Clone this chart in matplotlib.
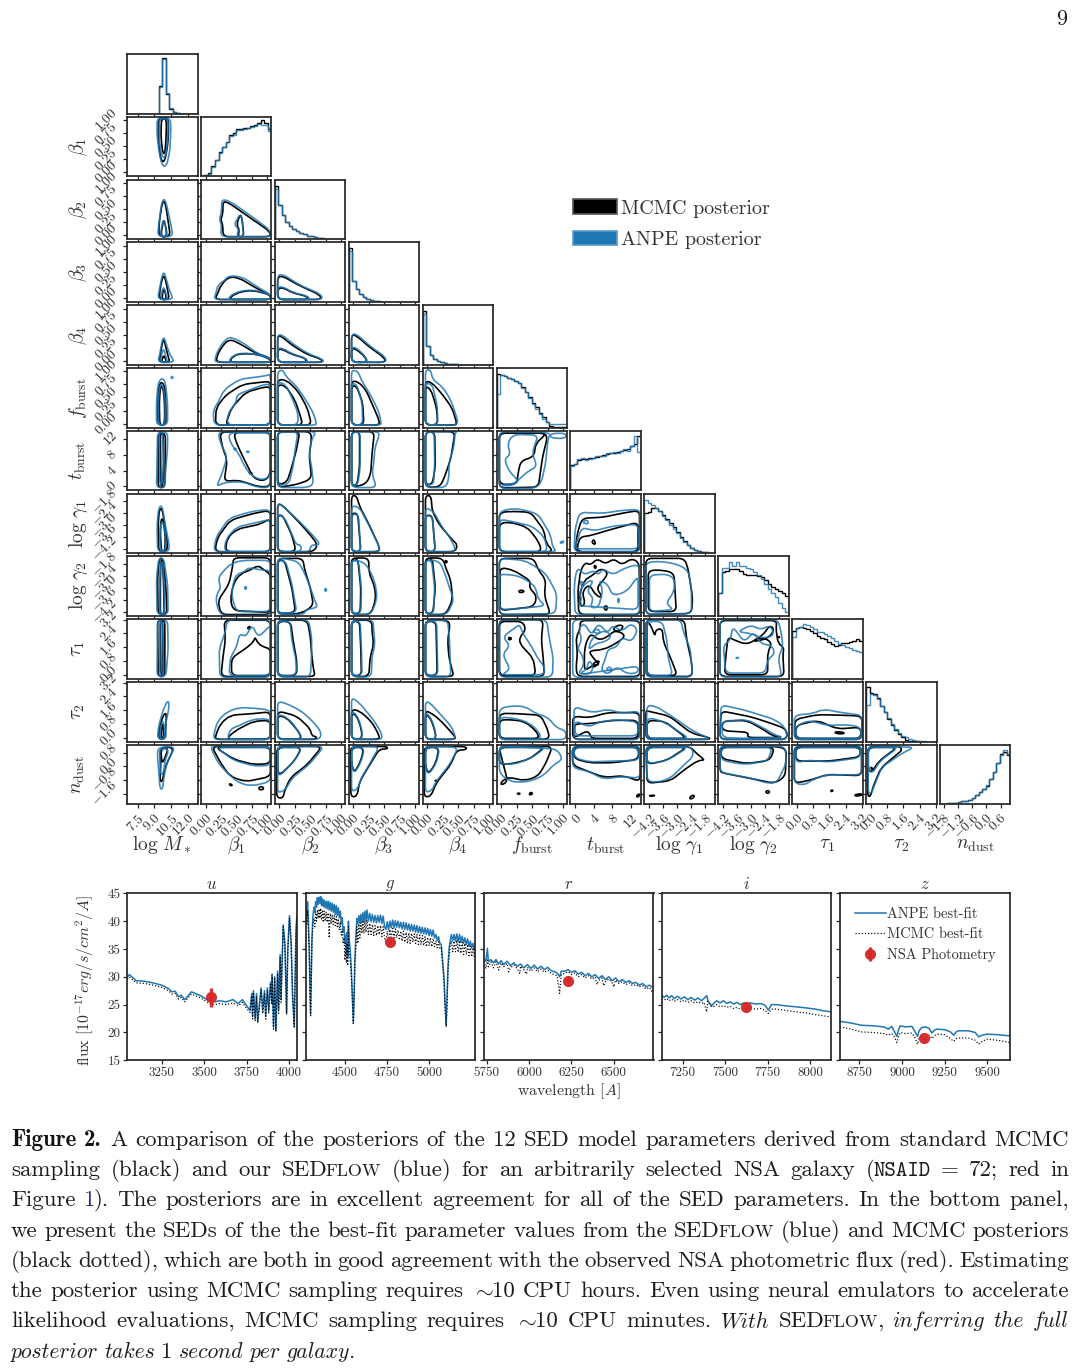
import re

import numpy as np
import matplotlib
matplotlib.use("Agg")
import matplotlib.pyplot as plt
from matplotlib.patches import Patch, PathPatch
from matplotlib.path import Path

plt.rcParams["mathtext.fontset"] = "cm"
plt.rcParams["font.family"] = ["cmr10", "DejaVu Serif"]
plt.rcParams["axes.formatter.use_mathtext"] = True
plt.rcParams["axes.unicode_minus"] = False

BLUE = "C0"
DARK = "#262626"
RED = "#d62728"

# ---- corner plot parameters
param_labels = [r"$\log\,M_*$", r"$\beta_1$", r"$\beta_2$", r"$\beta_3$", r"$\beta_4$", r"$f_{\rm burst}$",
                r"$t_{\rm burst}$", r"$\log\,\gamma_1$", r"$\log\,\gamma_2$", r"$\tau_1$", r"$\tau_2$", r"$n_{\rm dust}$"]
beta_ticks = [0, 0.25, 0.5, 0.75, 1.0]
beta_text = ["0.00", "0.25", "0.50", "0.75", "1.00"]
gamma_ticks = [-4.2, -3.6, -3.0, -2.4, -1.8]
gamma_text = ["-4.2", "-3.6", "-3.0", "-2.4", "-1.8"]
tau_ticks = [0, 0.8, 1.6, 2.4, 3.2]
tau_text = ["0.0", "0.8", "1.6", "2.4", "3.2"]
x_limits = [(6.54, 12.9)] + [(-0.076, 1.065)] * 5 + [(-1, 14.1)] + [(-4.42, -1.4)] * 2 + [(-0.23, 3.23)] * 2 + [(-1.98, 1.02)]
y_limits = x_limits[:11] + [(-2.22, 1.25)]
x_ticks = [[7.5, 9, 10.5, 12]] + [beta_ticks] * 5 + [[0, 4, 8, 12]] + [gamma_ticks] * 2 + [tau_ticks] * 2 + [[-1.8, -1.2, -0.6, 0, 0.6]]
x_text = [["7.5", "9.0", "10.5", "12.0"]] + [beta_text] * 5 + [["0", "4", "8", "12"]] + [gamma_text] * 2 + [tau_text] * 2 + [["-1.8", "-1.2", "-0.6", "0.0", "0.6"]]
y_ticks = x_ticks[:11] + [[-1.6, -0.8, 0, 0.8]]
y_text = x_text[:11] + [["-1.6", "-0.8", "0.0", "0.8"]]

# ---- marginal histograms, 20 bins, height as fraction of the panel
hist_mcmc = [
    [0, 0, 0, 0, 0, 0, 0, 0, 0, .47, .93, .33, .07, .02, .01, 0, 0, 0, 0, 0],
    [0, .02, .05, .17, .28, .4, .5, .58, .69, .72, .79, .8, .81, .82, .85, .87, .9, .94, .9, .8],
    [.9, .58, .41, .29, .22, .17, .14, .11, .085, .06, .045, .03, .02, .012, .008, .004, .002, 0, 0, 0],
    [.91, .35, .21, .135, .08, .05, .03, .02, .01, .005, .002, 0, 0, 0, 0, 0, 0, 0, 0, 0],
    [.9, .31, .17, .1, .06, .04, .025, .015, .008, .004, .002, 0, 0, 0, 0, 0, 0, 0, 0, 0],
    [.9, .89, .86, .84, .81, .78, .74, .68, .6, .51, .42, .34, .25, .17, .1, .03, .01, .01, .01, .01],
    [.42, .44, .51, .53, .52, .54, .55, .56, .58, .59, .61, .63, .63, .64, .66, .67, .69, .75, .77, .92],
    [.68, .69, .75, .75, .71, .64, .58, .5, .44, .35, .27, .2, .14, .085, .05, .03, .02, .015, .01, .005],
    [.39, .73, .76, .78, .79, .78, .75, .71, .69, .69, .68, .67, .65, .6, .53, .49, .46, .42, .38, .34],
    [.8, .85, .87, .86, .83, .8, .76, .72, .69, .66, .62, .59, .55, .57, .6, .6, .62, .63, .66, .63],
    [.92, .82, .79, .73, .6, .49, .37, .28, .19, .12, .07, .03, .012, .006, .003, 0, 0, 0, 0, 0],
    [.005, .01, .015, .02, .03, .04, .05, .06, .08, .11, .15, .2, .25, .31, .42, .54, .7, .84, .88, .83],
]
hist_anpe = [
    [0, 0, 0, 0, 0, 0, 0, 0, 0, .45, .91, .34, .085, .03, .01, 0, 0, 0, 0, 0],
    [0, .02, .045, .16, .27, .39, .5, .58, .67, .7, .77, .78, .8, .81, .83, .85, .88, .86, .87, .76],
    [.84, .58, .41, .29, .22, .17, .14, .11, .085, .06, .045, .03, .02, .012, .008, .004, .002, 0, 0, 0],
    [.85, .35, .21, .135, .08, .05, .03, .02, .01, .005, .002, 0, 0, 0, 0, 0, 0, 0, 0, 0],
    [.85, .31, .17, .1, .06, .04, .025, .015, .008, .004, .002, 0, 0, 0, 0, 0, 0, 0, 0, 0],
    [.56, .88, .87, .84, .81, .78, .74, .67, .59, .5, .4, .31, .22, .14, .09, .06, .06, .06, .06, .06],
    [.41, .44, .52, .55, .51, .53, .55, .58, .57, .58, .63, .62, .65, .62, .66, .7, .66, .74, .92, .64],
    [.9, .85, .8, .76, .7, .62, .55, .47, .4, .33, .26, .19, .13, .08, .05, .03, .02, .012, .008, .004],
    [.39, .81, .81, .91, .84, .91, .84, .84, .81, .78, .74, .69, .62, .53, .45, .39, .31, .22, .14, .06],
    [.7, .86, .87, .92, .91, .87, .83, .79, .79, .75, .72, .69, .63, .59, .56, .53, .51, .49, .46, .45],
    [.62, .8, .78, .71, .6, .5, .4, .29, .21, .15, .1, .07, .045, .03, .015, .01, .005, 0, 0, 0],
    [.005, .01, .015, .02, .03, .04, .05, .06, .08, .11, .15, .2, .26, .32, .42, .55, .69, .83, .92, .84],
]

# ---- 2d contours, flat x,y lists in parameter units, one list per column
mcmc_beta1 = [[[9.4,1.05,9.35,.7,9.5,.35,9.7,.2,9.95,.22,10.2,.5,10.3,.8,10.25,1.05], [9.65,1.03,9.6,.7,9.75,.38,9.95,.35,10.05,.6,10.1,.9,10.05,1.03]]]
anpe_beta1 = [[[9.25,1.05,9.25,.7,9.5,.3,9.75,.12,10.1,.12,10.4,.4,10.5,.8,10.45,1.05], [9.45,1.03,9.45,.6,9.7,.3,10,.28,10.2,.6,10.25,.9,10.2,1.03]]]

mcmc_beta2 = [
    [[9.4,-.03,9.45,.25,9.7,.6,9.9,.66,10.05,.55,10.3,.2,10.45,-.03], [9.6,-.03,9.7,.15,9.85,.3,10,.2,10.15,-.03]],
    [[.28,-.03,.28,.2,.24,.3,.28,.4,.28,.66,.4,.6,.7,.35,1.03,.08,1.06,-.03], [.52,-.03,.55,.1,.5,.2,.55,.37,.58,.38,.6,.2,.62,-.03]],
]
anpe_beta2 = [
    [[9.3,-.03,9.4,.2,9.65,.6,9.88,.71,10.1,.6,10.45,.25,10.7,-.03], [9.55,-.03,9.65,.15,9.85,.32,10.05,.15,10.2,-.03]],
    [[.24,-.03,.26,.2,.22,.3,.26,.45,.26,.7,.42,.63,.72,.38,1.04,.1,1.06,-.03], [.5,-.03,.54,.12,.46,.2,.52,.32,.55,.4,.6,.3,.6,.1,.62,-.03]],
]

mcmc_beta3 = [
    [[9.45,-.03,9.5,.15,9.75,.4,9.9,.42,10.05,.32,10.25,.1,10.35,-.03], [9.7,-.03,9.75,.1,9.85,.18,10,.1,10.1,-.03]],
    [[.15,-.03,.2,.1,.25,.25,.38,.41,.55,.38,.8,.2,1.05,.05,1.06,-.03], [.36,-.03,.5,.1,.75,.15,1.05,.06,1.06,-.03]],
    [[-.03,-.03,-.03,.4,.05,.42,.3,.25,.65,.06,.68,-.03], [-.03,-.03,-.03,.18,.06,.2,.2,.1,.45,.03,.47,-.03]],
]
anpe_beta3 = [
    [[9.3,-.03,9.45,.15,9.7,.42,9.88,.5,10.1,.35,10.4,.12,10.75,-.03], [9.55,-.03,9.7,.12,9.85,.22,10.05,.08,10.2,-.03]],
    [[.13,-.03,.17,.1,.2,.25,.3,.33,.38,.43,.6,.4,.85,.2,1.05,.07,1.06,-.03], [.34,-.03,.48,.11,.75,.16,1.04,.07,1.06,-.03]],
    [[-.03,-.03,-.03,.44,.06,.45,.32,.25,.67,.07,.7,-.03], [-.03,-.03,-.03,.2,.05,.22,.22,.1,.47,.03,.48,-.03]],
]

mcmc_beta4 = [
    [[9.45,-.03,9.55,.1,9.75,.38,9.9,.4,10.05,.25,10.3,.05,10.4,-.03], [9.65,-.03,9.75,.05,9.85,.1,10,.05,10.1,-.03]],
    [[.19,-.03,.17,.05,.25,.25,.38,.42,.55,.33,.8,.15,1.05,.05,1.06,-.03], [.38,-.03,.45,.1,.6,.14,.85,.12,1.05,.03,1.06,-.03]],
    [[-.03,-.03,-.03,.48,.03,.47,.2,.3,.45,.12,.68,.03,.7,-.03], [-.03,-.03,-.03,.22,.05,.22,.2,.12,.42,.05,.44,-.03]],
    [[-.03,-.03,-.03,.5,.05,.48,.25,.27,.5,.06,.52,-.03], [-.03,-.03,-.03,.24,.05,.22,.2,.06,.22,-.03]],
]
anpe_beta4 = [
    [[9.3,-.03,9.5,.12,9.7,.38,9.88,.46,10.1,.3,10.45,.1,10.85,-.03], [9.55,-.03,9.65,.12,9.85,.24,10.05,.08,10.2,-.03]],
    [[.16,-.03,.15,.05,.22,.25,.34,.43,.42,.45,.6,.35,.85,.13,1.05,.06,1.06,-.03], [.36,-.03,.45,.11,.6,.15,.85,.12,1.05,.04,1.06,-.03]],
    [[-.03,-.03,-.03,.49,.04,.5,.22,.32,.47,.13,.7,.03,.71,-.03], [-.03,-.03,-.03,.24,.05,.24,.22,.12,.43,.05,.46,-.03]],
    [[-.03,-.03,-.03,.5,.04,.52,.27,.28,.52,.07,.53,-.03], [-.03,-.03,-.03,.26,.05,.25,.2,.07,.23,-.03]],
]

mcmc_fburst = [
    [[9.35,-.03,9.3,.4,9.45,.75,9.7,.8,9.95,.7,10.05,.35,10.05,-.03], [9.5,-.03,9.45,.4,9.55,.7,9.75,.72,9.9,.5,9.95,.2,9.9,-.03]],
    [[.16,-.03,.17,.3,.33,.55,.6,.75,.95,.8,1.05,.8,1.05,-.03], [.32,-.03,.42,.3,.65,.6,.95,.7,1.05,.7,1.05,-.03]],
    [[-.03,-.03,-.03,.85,.12,.83,.3,.62,.45,.3,.52,-.03], [-.03,-.03,-.03,.75,.1,.72,.25,.45,.35,.1,.37,-.03]],
    [[-.03,-.03,-.03,.82,.08,.8,.2,.65,.35,.25,.42,.05,.42,-.03], [-.03,-.03,-.03,.72,.05,.72,.15,.4,.17,-.03]],
    [[-.03,-.03,-.03,.82,.08,.78,.25,.55,.4,.3,.48,0,.45,-.03], [-.03,-.03,-.03,.72,.06,.65,.15,.3,.17,-.03]],
]
anpe_fburst = [
    [[9.2,-.03,9.2,.4,9.35,.78,9.7,.88,10,.8,10.2,.4,10.2,-.03], [9.4,-.03,9.35,.4,9.5,.72,9.7,.77,9.9,.6,10,.3,9.95,-.03], [10.5,.88,10.6,.91,10.7,.88,10.6,.86]],
    [[.14,-.03,.12,.25,.2,.4,.3,.65,.55,.85,.75,.88,1,.92,1.05,.95,1.05,-.03], [.35,-.03,.36,.2,.5,.4,.5,.55,.72,.65,.95,.75,1.05,.75,1.05,-.03]],
    [[-.03,-.03,-.03,1,.06,1.03,.1,.9,.25,.75,.4,.5,.55,.2,.6,0,.58,-.03], [-.03,-.03,-.03,.8,.1,.75,.2,.5,.3,.2,.3,-.03]],
    [[-.03,-.03,-.03,1.03,.08,1,.12,.85,.3,.5,.42,.2,.45,0,.43,-.03], [-.03,-.03,-.03,.76,.05,.76,.14,.4,.15,-.03]],
    [[-.03,-.03,-.03,1.03,.06,1.03,.08,.85,.25,.7,.38,.45,.47,.15,.5,-.03], [-.03,-.03,-.03,.78,.08,.75,.16,.35,.17,-.03]],
]

mcmc_tburst = [
    [[9.35,-.3,9.35,13.5,10,13.5,10,6,9.95,-.3], [9.6,0,9.55,13.5,9.8,13.5,9.85,5,9.75,0]],
    [[.23,13.8,.27,10,.35,6.7,.3,1.2,.5,1.6,.65,1,.85,-.1,1.05,-.1,1.05,13.8], [.45,13.7,.5,11,.62,7,.7,4.5,.78,2,.95,1.3,1.05,3,1.05,13.7], [.7,3.6,.76,3.3,.72,3.1]],
    [[-.03,-.2,.15,.1,.35,.8,.52,2,.5,5,.48,8,.52,12,.5,13.9,-.03,13.9], [-.03,.4,.12,1,.2,5,.27,9,.33,13.9,-.03,13.9]],
    [[-.03,-.2,.2,.5,.28,3,.3,8,.34,13.9,-.03,13.9], [-.03,.3,.06,.3,.1,5,.1,13.9,-.03,13.9]],
    [[-.03,-.2,.2,-.2,.27,2,.38,7,.42,11,.45,13.9,-.03,13.9], [-.03,.5,.08,.5,.13,5,.12,13.8,-.03,13.8]],
    [[-.03,-.4,.6,-.2,.67,7.5,.75,12.6,.68,13.7,-.03,13.7], [-.03,.5,.25,.5,.28,4,.32,6.5,.53,7.5,.56,11,.7,12.8,.7,13.5,-.03,13.5]],
]
anpe_tburst = [
    [[9.2,-.3,9.3,13.9,10.2,13.9,10.2,10,10,3,9.95,-.3], [9.5,.5,9.45,13.8,9.75,13.8,9.85,6,9.7,.5]],
    [[.2,13.9,.24,11,.35,7.5,.25,2.5,.17,-.1,.3,1,.6,1.2,.85,-.3,1.05,-.3,1.05,13.8], [.37,13.6,.4,11,.55,8,.6,6,.72,3,.9,1.5,1.05,2.5,1.05,13.6], [.65,8.8,.7,9,.7,8.5], [.45,9.5,.5,9.7,.48,9.2]],
    [[-.03,-.3,.45,-.3,.55,.5,.52,5,.48,8,.52,12,.6,13.9,-.03,13.9], [-.03,.3,.15,.5,.22,5,.25,9,.3,13.9,-.03,13.9]],
    [[-.03,-.3,.38,-.3,.3,3,.33,6,.35,10,.42,13,.4,13.9,-.03,13.9], [-.03,.3,.07,.3,.11,5,.11,13.8,-.03,13.8]],
    [[-.03,-.3,.3,-.3,.35,2,.35,6,.43,10,.45,13.8,.5,13.9,-.03,13.9], [-.03,.4,.1,.4,.12,6,.11,13.8,-.03,13.8]],
    [[-.03,-.5,.55,-.5,.65,1,.72,6,.75,11,.78,13.4,1.05,13.5,1.05,12.2,.8,12.2,.78,13.7,-.03,13.8], [-.03,.2,.3,1,.12,4,.05,7,.15,8,.1,11,.2,13.2,.6,13,.5,8.5,.58,5,.45,4,.3,2,.2,.2]],
]

mcmc_gamma1 = [
    [[9.4,-4.35,9.35,-3,9.45,-2.2,9.7,-2.15,9.95,-3,10.2,-4,10.1,-4.35], [9.65,-4.35,9.55,-3.5,9.6,-2.7,9.8,-2.7,10,-3.6,9.95,-4.35]],
    [[.15,-4.35,.19,-3.65,.4,-2.75,.78,-2.4,1.05,-2.25,1.05,-4.35], [.32,-4.35,.35,-3.65,.51,-3.2,.89,-2.95,1.05,-2.65,1.05,-4.35]],
    [[-.03,-4.35,-.03,-1.9,.05,-2,.3,-2.8,.5,-3.5,.62,-4,.55,-4.35], [-.03,-4.35,-.03,-2.5,.05,-2.5,.2,-3.5,.27,-4.35]],
    [[-.03,-4.35,-.03,-1.5,.05,-1.5,.1,-2.05,.25,-2.95,.42,-4.1,.42,-4.35], [-.03,-4.35,-.03,-2.4,.07,-2.4,.12,-4.35]],
    [[-.03,-4.35,-.03,-1.5,.06,-1.5,.08,-2.3,.2,-3,.42,-3.8,.49,-4,.45,-4.35], [-.03,-4.35,-.03,-2.5,.08,-2.5,.13,-4.35]],
    [[-.03,-4.35,-.03,-2.35,.2,-2.3,.48,-2.35,.7,-3.3,.72,-3.9,.85,-4.35], [-.03,-4.35,-.03,-2.9,.15,-2.85,.42,-3.1,.6,-3.8,.66,-4.35]],
    [[0,-4.35,.5,-3.4,1.5,-2.65,6,-2.6,10,-2.4,13.8,-2.25,13.8,-4.35], [.3,-4.35,1,-3.6,3,-3.55,8,-3.2,13.5,-2.85,13.5,-4.35], [3.5,-3.9,4.5,-4,4,-3.7]],
]
anpe_gamma1 = [
    [[9.3,-4.35,9.25,-3,9.4,-2.1,9.7,-2,10,-3,10.35,-4,10.3,-4.35], [9.55,-4.3,9.5,-3.5,9.6,-2.85,9.8,-2.85,10.05,-3.6,10,-4.3]],
    [[.13,-4.35,.17,-3.6,.38,-2.65,.75,-2.3,1.05,-2.2,1.05,-4.35], [.3,-4.35,.33,-3.7,.5,-3.1,.85,-2.85,1.05,-2.7,1.05,-4.35]],
    [[-.03,-4.35,-.03,-1.85,.1,-2.15,.35,-2.9,.55,-3.55,.67,-4,.5,-4,.5,-4.35], [-.03,-4.35,-.03,-2.45,.08,-2.6,.22,-3.6,.27,-4,.35,-4,.35,-4.35]],
    [[-.03,-4.35,-.03,-2,.1,-2.1,.25,-3,.42,-4.1,.42,-4.35], [-.03,-4.35,-.03,-2.45,.08,-2.45,.12,-4.35]],
    [[-.03,-4.35,-.03,-2.1,.1,-2.3,.22,-3,.4,-3.8,.47,-4.35], [-.03,-4.35,-.03,-2.5,.08,-2.55,.13,-4.35]],
    [[-.03,-4.35,-.03,-2.3,.2,-2.15,.4,-2.25,.6,-2.45,.8,-3.5,.83,-4.1,.9,-4.35], [-.03,-4.35,-.03,-2.7,.15,-2.8,.5,-3.05,.7,-3.6,.75,-4.35], [.95,-3.85,1.03,-3.8,.97,-3.95]],
    [[-.2,-4.35,0,-3.2,1,-2.35,6,-2.4,10,-2.25,13.9,-2.2,13.9,-4.35], [-.2,-4.2,1.5,-3.1,4,-3.3,8,-3.05,13,-2.95,13.7,-3.2,13.7,-4.2], [1.5,-2.9,2.5,-2.7,3,-2.95]],
]

mcmc_gamma2 = [
    [[9.35,-4.35,9.3,-2.5,9.45,-1.5,9.8,-1.5,10.05,-3,10.15,-4.35], [9.55,-4.35,9.55,-2.5,9.6,-1.6,9.75,-1.6,9.85,-3,9.9,-4.35]],
    [[.45,-1.47,1.05,-1.47,1.05,-4.35,.25,-4.35,.2,-3.65,.38,-2.8,.44,-1.86], [.55,-2.3,.72,-2.1,.85,-1.85,.95,-2.1,1.05,-2.3,1.05,-4.25,.45,-4.15,.4,-3.6,.45,-2.8]],
    [[-.03,-1.5,.38,-1.5,.4,-2,.5,-3,.55,-3.9,.35,-4.3,-.03,-4.35], [-.03,-1.6,.08,-1.6,.2,-3,.26,-4.25,-.03,-4.3]],
    [[-.03,-1.48,.25,-1.48,.25,-2.2,.35,-3,.36,-3.6,.28,-4.35,-.03,-4.35], [-.03,-1.5,.07,-1.5,.12,-3,.11,-4.3,-.03,-4.3]],
    [[-.03,-1.48,.25,-1.48,.3,-2,.38,-2.6,.41,-3.6,.3,-4.35,-.03,-4.35], [-.03,-1.5,.08,-1.5,.13,-3,.09,-4.3,-.03,-4.3], [.28,-1.6,.33,-1.65,.3,-1.75]],
    [[-.03,-1.5,.53,-1.5,.6,-2.1,.72,-2.56,.7,-3.42,.8,-4.35,-.03,-4.35], [-.02,-1.95,.2,-2.1,.48,-2.65,.45,-3,.58,-3.4,.53,-3.95,-.02,-4.15], [.28,-3.15,.34,-3.1,.38,-3.2,.3,-3.25]],
    [[.8,-4.35,.6,-3.15,1.2,-2.1,2.2,-1.7,3.3,-1.85,4.75,-1.5,6.5,-1.8,8.3,-1.5,10,-1.85,12,-1.5,13.7,-1.7,14,-4.35],
     [1.2,-4,2.2,-3.8,1.5,-3.2,3,-2.8,4.5,-3.4,6,-3.5,4.5,-3,6.5,-2.5,7,-2.2,5.5,-2,3.5,-2.4,2,-2.6,1,-3.3], [4,-1.85,4.6,-1.9,4.3,-2.05], [6,-3.95,7,-3.9,6.7,-4.2]],
    [[-4.35,-1.5,-2.7,-1.5,-2.55,-2,-2.35,-3.5,-2.4,-4.3,-4.35,-4.35], [-4.25,-2.1,-3.6,-2.1,-3.15,-2.25,-3.05,-4.2,-4.25,-4.2]],
]
anpe_gamma2 = [
    [[9.25,-4.35,9.2,-2.5,9.4,-1.5,9.85,-1.5,10.2,-2.8,10.25,-4.35], [9.5,-4.3,9.5,-2.5,9.58,-1.7,9.78,-1.7,9.9,-3,9.95,-4.3]],
    [[.42,-1.75,.6,-1.6,1.05,-1.6,1.05,-4.4,.25,-4.4,.17,-3.8,.18,-3.3,.25,-3,.2,-2.5,.3,-2.1], [.5,-2.3,.62,-2.2,.7,-1.95,.9,-2.1,1.05,-2.1,1.05,-4.2,.5,-4.2,.42,-3.4,.45,-2.7], [.62,-3,.66,-2.9,.66,-3.1]],
    [[-.03,-1.45,.3,-1.65,.4,-2.2,.5,-3,.58,-3.7,.62,-4,.42,-4.1,.4,-4.35,-.03,-4.35], [-.03,-1.55,.1,-1.65,.2,-2.8,.28,-4.25,-.03,-4.3], [.72,-3.1,.76,-3,.76,-3.2]],
    [[-.03,-1.55,.18,-1.7,.3,-2.3,.37,-3,.38,-3.6,.28,-4.35,-.03,-4.35], [-.03,-1.6,.08,-1.6,.13,-3,.12,-4.3,-.03,-4.3]],
    [[-.03,-1.55,.2,-1.65,.3,-2.4,.36,-3,.43,-3.6,.32,-4.35,-.03,-4.35], [-.03,-1.6,.07,-1.6,.12,-3,.1,-4.3,-.03,-4.3]],
    [[-.03,-1.5,.38,-1.6,.7,-2.2,.8,-2.7,.9,-3.3,.88,-4.3,-.03,-4.35], [-.03,-2.35,.05,-2.3,.3,-2.4,.55,-2.9,.6,-3.6,.72,-3.9,.3,-4.05,-.03,-4.1]],
    [[0,-4.35,-.2,-3,.2,-2.2,.8,-2,2,-2.35,4,-2.1,5,-2.35,6,-2,8,-2.35,11,-1.95,13.8,-1.8,13.8,-4.35],
     [.5,-3.9,1.5,-3.6,.8,-3.2,2.4,-2.7,4,-2.6,2.5,-3.2,4,-3.5,3.2,-4,5,-4,6,-3.1,5,-2.6,7,-2.8,8,-3.4,11,-3.2,13.5,-2.4,13.5,-4.1], [9,-3.6,9.5,-3.5,9.4,-3.8], [1,-2.6,2,-2.8,1.5,-3]],
    [[-4.35,-1.7,-3.7,-1.65,-3,-1.8,-2.55,-2.1,-2.4,-3,-2.4,-4.3,-4.35,-4.35], [-4.2,-2.35,-3.4,-2.3,-3.1,-2.6,-3.15,-3.2,-3.5,-3.8,-3.15,-4.1,-4.2,-4.2]],
]

mcmc_tau1 = [
    [[9.35,-.1,9.3,3.2,9.95,3.2,9.95,-.1], [9.6,-.05,9.55,3.15,9.75,3.15,9.8,-.05]],
    [[.25,-.1,.28,1,.32,2,.3,3.17,1.05,3.17,1.05,-.1], [.42,-.05,.42,.95,.55,1.3,.68,1.6,.78,1.95,.8,2.2,.85,1.8,.95,1.6,1.05,1.5,1.05,-.05], [.67,2.7,.72,2.85,.72,2.65]],
    [[-.03,-.1,.58,-.1,.55,.3,.52,1.2,.5,2.2,.45,3.17,-.03,3.17], [-.03,-.05,.28,-.05,.28,.8,.22,2,.18,3.1,-.03,3.1]],
    [[-.03,-.1,.25,-.1,.27,1,.33,1.8,.3,2.5,.3,3.17,-.03,3.17], [-.03,-.05,.13,-.05,.12,1.5,.1,3.1,-.03,3.1]],
    [[-.03,-.1,.43,-.1,.4,.3,.35,1,.33,2,.37,3,.3,3.17,-.03,3.17], [-.03,-.05,.16,-.05,.15,1.5,.14,3.1,-.03,3.1]],
    [[-.03,-.1,.7,-.1,.68,1,.65,2,.68,3.2,-.03,3.2], [-.03,-.05,.56,-.05,.52,.95,.3,1.8,.3,2.2,.4,2.6,.35,3.1,-.03,3.1], [.12,2.2,.18,2.1,.12,2]],
    [[.5,-.1,13.9,-.1,13.9,3.15,1,3.15,1.2,2.7,.2,2.2,.5,1.2,.2,.4],
     [2,.2,4,.6,5.3,.55,3.5,1.1,3,1.4,6,1.45,9,1.85,11,2.3,8.5,2.6,7,2.2,5,2,3.5,2.4,2.5,2,2,1.4], [3.5,.4,4.8,.55,5.3,.85,4,.7], [8,2.6,9,2.9,10.5,2.85,9.5,2.5]],
    [[-4.35,-.1,-2.35,-.1,-2.4,.8,-2.6,2,-2.7,3.2,-4.35,3.2], [-4.3,-.05,-3,-.05,-3.3,1,-3.6,1.9,-3.65,2.7,-3.95,2.6,-3.95,2.2,-4.15,2.9,-4.3,3.1]],
    [[-4.35,-.1,-1.6,-.1,-1.65,1.2,-1.6,1.6,-1.85,1.8,-1.95,2.7,-1.9,3.15,-4.35,3.15],
     [-4.15,0,-2.3,0,-2.3,1.3,-2.1,1.9,-2.6,2.2,-3.2,1.75,-3.7,2,-4,2.2,-4.1,1], [-3,1.9,-2.5,2.3,-2.2,2.9,-2,2.6,-2.3,2.1], [-1.9,2.2,-1.75,2.2,-1.85,2.15]],
]
anpe_tau1 = [
    [[9.25,-.1,9.3,3.2,10.2,3.2,10.25,1.5,10.05,-.1], [9.5,0,9.5,3.1,9.75,3.1,9.85,0]],
    [[.23,-.15,.22,1.5,.32,2.5,.35,3.2,1.05,3.2,1.05,-.15], [.38,-.05,.4,1,.5,1.6,.55,2.4,.65,2.2,.75,2.9,.85,2.2,.95,2.5,1.05,2.9,1.05,-.05]],
    [[-.03,-.13,.5,-.13,.52,1.2,.52,2.2,.47,3.2,-.03,3.2], [-.03,-.05,.27,-.05,.27,.8,.2,2,.17,3.12,-.03,3.12]],
    [[-.03,-.13,.29,-.13,.3,1,.35,1.8,.33,2.5,.32,3.2,-.03,3.2], [-.03,-.05,.14,-.05,.13,1.5,.11,3.12,-.03,3.12]],
    [[-.03,-.13,.38,-.13,.37,1,.36,2,.33,3.17,-.03,3.17], [-.03,-.05,.17,-.05,.16,1.5,.15,3.12,-.03,3.12]],
    [[-.03,-.13,.83,-.13,.84,1,.76,2.5,.74,3.2,-.03,3.2], [0,0,.15,.3,.02,1.2,.15,1.7,.02,2.2,.25,2.8,.3,2.9,.35,2.4,.5,1.6,.6,.9,.7,.5,.7,0]],
    [[-.5,-.15,14,-.15,14,3.2,-.5,3.2],
     [.5,0,2,.6,1.5,1.2,.4,1.5,1.5,2,.7,2.7,2,3,3.5,2.3,5,3,7,2.4,8,2.9,10,2.5,12,3,13.5,2.6,12,1.9,10,2.2,9,1.6,7,1.5,6.5,.9,5.5,.3,7,0,9,.5,11,.05,13.5,.1,13.5,.5],
     [1,.1,2.5,.3,3,.9,4,.4,3,0], [2.8,1.4,4.5,1.85,6.5,1.9,8,2.3,6,2.6,3.5,2.1], [6.5,.3,7.5,.5,8,.2], [3.5,2.5,5,2.7,5.5,2.35]],
    [[-4.35,-.13,-2.35,-.13,-2.45,1.5,-2.75,2.5,-2.85,3.2,-4.35,3.2], [-4.3,-.05,-3.2,-.05,-3.4,1,-3.45,2,-3.65,3.1,-4.3,3.1]],
    [[-4.35,-.13,-1.7,-.13,-1.85,1,-1.65,1.6,-1.7,2.3,-1.85,3.2,-4.35,3.2],
     [-4.1,.1,-2.4,.1,-2.3,.9,-2,1.2,-2.1,1.7,-2.6,1.8,-2.9,2.5,-3.3,1.9,-3.8,2.8,-3.9,2,-4.2,1.7], [-3.6,2.5,-3,2.9,-2.6,2.6,-2.2,2.9,-2,2.3,-2.5,2.1,-3,2.4], [-3.7,1,-3.5,1,-3.6,.95]],
]

mcmc_tau2 = [
    [[9.4,-.1,9.45,.5,9.8,1.3,10.1,1.45,10.05,.7,9.95,-.1], [9.6,-.1,9.65,.5,9.8,.9,9.85,.3,9.8,-.1]],
    [[.16,-.1,.16,.1,.24,.8,.4,1.3,.8,1.4,1.05,1.5,1.05,-.1], [.33,-.1,.48,.4,.78,.95,1.05,1,1.05,-.1]],
    [[-.03,-.1,.6,-.1,.6,.05,.52,.1,.5,.5,.28,1.25,-.03,1.55], [-.03,-.1,.35,-.1,.33,.25,.12,1.15,-.03,1.3]],
    [[-.03,-.1,.42,-.1,.42,.1,.3,.9,.1,1.55,-.03,1.65], [-.03,-.1,.14,-.1,.13,.5,.05,1.3,-.03,1.4]],
    [[-.03,-.1,.46,-.1,.44,.1,.2,1.05,.05,1.45,-.03,1.55], [-.03,-.1,.15,-.1,.1,.7,.03,1.25,-.03,1.3]],
    [[-.03,-.1,.78,-.1,.76,.4,.64,1.3,.2,1.4,-.03,1.4], [-.03,-.05,.63,-.05,.55,.45,.37,.95,.1,1.05,-.03,1]],
    [[-.5,-.1,-.5,1.25,3,1.15,7,1.45,13.8,1.45,13.8,-.1], [-.3,.8,3,.8,8,1,13.5,1,13.5,-.05,3.5,-.05,3.2,.2,2.5,.4,-.3,-.05]],
    [[-4.35,-.1,-1.6,-.1,-1.65,0,-2.4,.25,-3.35,1.25,-4.3,1.55,-4.35,1.55], [-4.3,-.05,-2.6,-.05,-3.55,.95,-4.3,1]],
    [[-4.35,-.1,-1.45,-.1,-1.5,.5,-2.1,.8,-3,1.2,-4.3,1.55], [-4.25,.95,-3.2,1,-2.4,.4,-2.1,.1,-1.6,0,-3.2,0,-3.1,.3,-4.25,.4]],
    [[-.1,-.1,-.1,1.05,1,1.33,2.2,1.3,3.2,1.25,3.2,-.1], [-.05,.7,1,1,2,.5,3.15,.6,3.15,-.05,-.05,-.05], [1.8,.3,2.1,.35,2.4,.25,2.1,.2]],
]
anpe_tau2 = [
    [[9.27,-.1,9.4,.7,9.85,1.7,10.25,2.2,10.35,1.8,10,.7,10.1,-.1], [9.5,-.1,9.55,.6,9.8,1.05,9.95,.4,9.9,-.1]],
    [[.13,-.12,.14,.3,.2,1,.35,1.5,.55,1.75,.8,1.7,1.05,1.6,1.05,-.12], [.35,-.1,.4,.5,.55,.7,.75,1.05,.95,1.1,1.05,1,1.05,-.1]],
    [[-.03,-.12,.65,-.12,.68,.3,.55,.9,.35,1.55,.1,2,-.03,2.1], [-.03,-.1,.37,-.1,.32,.3,.15,1.1,-.03,1.4]],
    [[-.03,-.12,.47,-.12,.45,.3,.32,1.05,.1,2,-.03,2.35], [-.03,-.1,.15,-.1,.13,.6,.05,1.35,-.03,1.5]],
    [[-.03,-.12,.47,-.12,.4,.6,.2,1.4,.05,2,-.03,2.1], [-.03,-.1,.15,-.1,.11,.7,.03,1.3,-.03,1.4]],
    [[-.03,-.12,1.05,-.12,1.05,.4,.9,.55,.75,1.2,.55,1.4,.4,1.8,.2,1.85,-.03,1.7], [-.03,-.1,.65,-.1,.6,.4,.45,.85,.25,1.1,-.03,1.2]],
    [[-.3,-.12,-.2,1.8,2,1.6,4,1.45,7,1.65,10,1.4,13.8,1.55,13.8,-.12], [0,.1,0,1,3,.6,5,.9,9,1.05,13.5,.9,13.5,.1]],
    [[-4.35,-.12,-1.65,-.12,-1.7,0,-2.3,.35,-3.2,1.2,-3.9,1.8,-4.3,1.9], [-4.3,-.05,-2.5,-.05,-3.5,.85,-4,1.1,-4.3,1.1]],
    [[-4.35,-.12,-1.45,-.12,-1.55,.6,-2,1.05,-3.3,1.6,-4.3,1.9], [-4.25,.95,-3.2,1.05,-2.4,.5,-2,.15,-1.6,0,-3.2,-.05,-4.25,0]],
    [[-.12,-.12,-.12,1.3,.8,1.4,1.3,1.65,2.2,1.45,3.2,1.3,3.2,-.12], [-.05,.65,.6,1,1.5,.7,2.5,.75,3.15,.6,3.15,-.05,-.05,-.05]],
]

mcmc_ndust = [
    [[9.5,1.1,10.8,1.1,9.95,-.1,9.7,-.95,9.5,-.8,9.6,.2], [9.6,1.05,10.3,1.05,9.9,.4,9.75,.2,9.65,.4]],
    [[.1,1.15,.25,.15,.4,-.6,.65,-.9,1.05,-.6,1.05,1.15], [.16,1.1,.46,.4,.78,.1,1.05,.15,1.05,1.1], [.38,-1,.44,-1.1,.4,-1.15], [.85,-1.3,.9,-1.15,.95,-1.3,.9,-1.4]],
    [[-.04,1.15,.69,1.15,.45,.1,.18,-.65,.08,-1.45,.06,-1.85,-.04,-1.85,-.05,-1.3], [-.03,1.1,.36,1.1,.24,.3,.01,-.5,-.03,-.3]],
    [[-.05,1.15,.55,1.15,.55,1,.42,1,.25,0,.1,-.9,.06,-1.75,-.04,-1.8], [-.03,1.1,.17,1.1,.12,.3,.01,-.4,-.03,.2]],
    [[-.05,1.15,.63,1.15,.63,.95,.48,.95,.38,.1,.14,-1,.06,-1.75,-.05,-1.8], [-.03,1.1,.19,1.1,.14,.2,.02,-.45,-.03,0], [.12,-.85,.15,-.8,.17,-.9]],
    [[-.04,1.15,.83,1.15,.72,.15,.59,-.6,.37,-.85,.15,-.65,.05,-.75,-.02,-1.05,.05,-1.05,.1,-.8], [-.03,1.1,.7,1.1,.45,.4,.15,.13,-.03,.1], [.25,-1.6,.3,-1.55,.3,-1.65], [.47,-1.5,.52,-1.6,.45,-1.7]],
    [[-.6,1.15,13.9,1.15,13.9,-.9,10.5,-.55,6.2,-.65,3.3,-.35,-.5,.05], [-.3,1.1,13.6,1.1,13.6,.4,8,.2,3,.2,-.3,.45], [13.2,-1.7,13.8,-1.6,13.8,-1.75,13.2,-1.8]],
    [[-4.35,1.15,-2.45,1.15,-2.2,.75,-1.8,.35,-2.1,.35,-2.6,-.1,-3.3,-.85,-4.3,-1], [-4.3,1.1,-2.6,1.1,-3.45,.35,-4.3,.1], [-4.2,-1.7,-3.9,-1.7,-4.2,-1.75], [-2.5,-1.9,-2.4,-1.7,-2.25,-1.7,-2.35,-1.9]],
    [[-4.35,1.15,-1.9,1.15,-1.5,1,-1.55,-.6,-2,-1,-2.9,-.75,-4.2,-.4,-4.35,-.3], [-4.3,1.1,-2,1.1,-2.2,.35,-3.2,.15,-4.3,.45], [-2.4,-1.5,-2.3,-1.4,-2.2,-1.5,-2.3,-1.6]],
    [[-.12,1.15,3.18,1.15,3.18,-.55,1.5,-.48,.7,-.8,-.12,-1], [-.05,1.1,3.12,1.1,3.12,.55,1.6,.3,-.05,.3], [1.65,-1.4,1.8,-1.4,1.7,-1.5], [2.85,-1.65,3.2,-1.6,3.2,-1.7,2.85,-1.75]],
    [[-.15,1.15,1.5,1.15,1.5,.9,1.45,.85,.5,-.1,.1,-1.25,0,-1.75,-.15,-1.75], [-.12,1.1,1.3,1.1,.4,.3,.05,-.35,-.12,-.2], [0,-.1,.05,-.05,.08,-.2]],
]
anpe_ndust = [
    [[9.3,1.1,10.9,1.15,10.2,.3,9.9,-.5,9.75,-1.35,9.5,-1.3,9.45,-.6,9.3,.5], [9.5,1.05,10.35,1,9.95,.3,9.85,-.4,9.55,-.5,9.5,.5]],
    [[.07,1.2,.2,.2,.38,-.5,.55,-1,.75,-1.15,1.05,-.9,1.05,1.15], [.18,1.1,.45,.35,.8,0,1.05,.05,1.05,1.1]],
    [[-.03,1.2,.72,1.15,.48,.1,.2,-.7,.1,-1.35,.02,-1.5,-.03,-1.5], [-.03,1.1,.37,1.1,.25,.35,.01,-.55,-.03,-.4]],
    [[-.03,1.2,.42,1.15,.25,.05,.11,-.8,.08,-1.3,-.03,-1.5], [-.03,1.1,.18,1.1,.13,.3,.01,-.45,-.03,.2]],
    [[-.03,1.2,.5,1.1,.37,.15,.13,-.95,.08,-1.4,-.03,-1.55], [-.03,1.1,.2,1.1,.15,.2,.02,-.5,-.03,-.1]],
    [[-.03,1.2,.9,1,1,.4,.85,.1,.7,-.5,.5,-.85,.3,-.95,.12,-.85,-.03,-.4], [-.03,1.1,.72,1.1,.5,.5,.2,.1,-.03,.15]],
    [[-.5,1.2,13.9,1.2,13.9,-.7,10,-.6,6,-.75,3,-.3,-.5,-.1], [-.2,1.1,13.7,1.1,13.7,.35,8,.3,3,.25,-.2,.5]],
    [[-4.35,1.2,-2.4,1.15,-2.3,.6,-2.7,.1,-3.3,-.7,-3.9,-.95,-4.3,-.85], [-4.3,1.1,-2.55,1.1,-3.3,.45,-3.7,.25,-4.3,.15]],
    [[-4.35,1.2,-1.55,1.15,-1.5,.2,-1.9,-.95,-2.3,-1,-3,-.7,-3.8,-.5,-4.35,-.35], [-4.3,1.1,-2.1,1.1,-2.3,.3,-3.3,.1,-4.3,.35]],
    [[-.12,1.2,3.18,1.2,3.18,-.5,1.5,-.5,.8,-.75,.4,-1.1,-.12,-1], [-.05,1.1,3.12,1.1,3.12,.5,1.6,.25,.5,.35,-.05,.2]],
    [[-.12,1.2,2.15,1.1,1.6,.8,.55,-.05,.15,-1.2,.05,-1.55,-.12,-1.6], [-.12,1.1,1.35,1.1,.45,.3,.1,-.4,-.12,-.25]],
]

mcmc_rows = [mcmc_beta1, mcmc_beta2, mcmc_beta3, mcmc_beta4, mcmc_fburst, mcmc_tburst, mcmc_gamma1, mcmc_gamma2, mcmc_tau1, mcmc_tau2, mcmc_ndust]
anpe_rows = [anpe_beta1, anpe_beta2, anpe_beta3, anpe_beta4, anpe_fburst, anpe_tburst, anpe_gamma1, anpe_gamma2, anpe_tau1, anpe_tau2, anpe_ndust]

# ---- best-fit spectra, flat wavelength,flux lists
anpe_u = [3048,30,3060,30.4,3075,30,3100,29.3,3150,29.2,3200,28.9,3250,28.5,3290,27.9,3310,27.3,3330,27.4,3350,26.4,3365,26.7,3385,25.9,3400,26.4,3425,27.3,3450,27,3480,26.6,3510,26,3540,25.6,3560,25.5,3590,25.7,3630,25.5,3670,25.9,3700,25.2,3725,25.9,3745,25,3770,24,
          3780,27,3785,23,3790,27.5,3800,22.5,3808,27,3815,22,3825,25,3835,28,3845,24,3855,27.5,3862,23,3872,28,3880,24,3890,29,3898,25.5,3900,30.5,3908,21,3915,30,3922,20.3,3932,31,3938,24,3947,34,3952,26,3965,39.3,3975,36,3985,23.5,3992,35,4002,41,4012,36,4020,27,4030,21,4040,38,4045,41]
mcmc_u = [3048,29.6,3060,30,3075,29.6,3100,28.9,3150,28.8,3200,28.5,3250,28.1,3290,27.5,3310,26.9,3330,27,3350,26,3365,26.3,3385,25.5,3400,26,3425,26.9,3450,26.6,3480,26.2,3510,25.6,3540,25.1,3560,25,3590,25.2,3630,25,3670,25.3,3700,24.8,3725,25.4,3745,24.5,3770,23.6,
          3780,26.6,3785,22.4,3790,27.2,3800,22,3808,26.5,3815,21.7,3825,24.5,3835,27.6,3845,23.4,3855,27,3862,22.4,3872,27.6,3880,23.4,3890,28.6,3898,25,3900,30,3908,20.6,3915,29.6,3922,20.2,3932,30.6,3938,23.4,3947,33.6,3952,25.4,3965,39,3975,35.6,3985,23.2,3992,34.6,4002,40.6,4012,35.6,4020,26.6,4030,21,4040,37.6,4045,40.6]
anpe_g = [4269,40,4272,43,4276,41,4280,43.5,4285,40,4290,35,4295,27,4298,23.2,4302,30,4306,37,4312,41,4318,42.5,4323,41.5,4328,43.5,4333,42.5,4338,44.2,4343,43,4348,44.3,4353,43.2,4358,44.4,4363,42.8,4368,44,4373,42.6,4378,43.8,4384,42.4,4390,43.6,4396,42.2,4402,43.6,4408,42,4414,43.4,4420,41.8,4426,43.2,4432,41.6,4438,43,4444,41.2,4450,42.8,4456,41,4462,42.4,4468,40.6,4474,41.8,4480,39.5,4486,40.6,4490,38,4496,39,4501,36,4506,37.5,4510,34,4515,38,4518,33.5,4522,40,4526,37,4532,35,4538,32,4545,27,4551,21.8,4556,27,4560,33,4566,37,4572,40.5,4578,39.5,4584,41,4590,39.6,4596,41.2,4602,39.8,4608,41.5,4614,39.8,4620,41.8,4626,40,4632,42,4640,40,4648,41.4,4656,39.9,4664,41.2,4672,39.8,4680,41,4688,39.7,4696,41,4704,39.8,4712,41.1,4720,39.6,4728,40.9,4736,39,4744,38.5,4752,39.9,4760,38.4,4768,40,4776,38.8,4784,40.2,4792,38.8,4800,40.1,4808,38.9,4816,40,4824,38.8,4832,39.8,4840,38.6,4848,39.8,4856,38.5,4864,39.7,4872,38.4,4880,39.5,4888,38.2,4896,39.4,4904,38.2,4912,39.3,4920,38,4928,39.2,4936,37.9,4944,39,4952,37.8,4960,38.9,4968,37.7,4976,38.8,4984,37.6,4992,38.7,5000,37.4,5008,38.5,5016,37.3,5024,38.4,5032,37,5040,37.6,5048,36.5,5056,37.2,5064,36,5072,35.8,5080,33,5088,30,5095,25,5101,21.2,5106,26,5112,32,5118,35,5125,36.5,5132,37.6,5140,36.4,5148,37.6,5156,36.4,5164,37.7,5172,36.3,5180,37.6,5188,36.2,5196,37.3,5204,36,5212,37,5220,35.8,5228,36.8,5236,35.5,5244,36.4,5252,35.2,5260,36,5268,34.8,5273,35.5]
mcmc_g = [4269,39,4272,41.5,4276,39.5,4280,42,4285,38.5,4290,34,4295,26,4298,23,4302,29,4306,36,4312,39.5,4318,40.5,4323,39,4328,41.5,4333,40,4338,42,4343,40.5,4348,42.2,4353,40.5,4358,42.3,4363,40.2,4368,42,4373,39.8,4378,41.8,4384,40,4390,41.6,4396,39.8,4402,41.5,4408,37,4414,41.4,4420,39.5,4426,41.2,4432,39.4,4438,41,4444,39.2,4450,40.8,4456,39,4462,40.4,4468,38.4,4474,39.8,4480,37.5,4486,38.4,4490,36,4496,37,4501,33,4506,36,4510,32.5,4515,36,4518,32,4522,39,4526,35,4532,33,4538,31,4545,26,4551,21.6,4556,26,4560,32,4566,35,4572,39,4578,36,4584,39.5,4590,37,4596,39.7,4602,37.8,4608,39.9,4614,37.8,4620,40,4626,38,4632,40.2,4640,37.6,4648,39.6,4656,37.6,4664,39.4,4672,37.4,4680,39.2,4688,37.4,4696,39.2,4704,37.6,4712,39.2,4720,37.2,4728,39,4736,37,4744,36.2,4752,38.2,4760,36.2,4768,38.5,4776,36.8,4784,38.7,4792,37,4800,38.6,4808,37,4816,38.4,4824,36.6,4832,38.2,4840,36.4,4848,38.2,4856,36.2,4864,38,4872,36,4880,37.9,4888,36,4896,37.8,4904,36.2,4912,37.7,4920,36,4928,37.6,4936,35.8,4944,37.5,4952,35.8,4960,37.4,4968,35.6,4976,37.2,4984,35.4,4992,37.1,5000,35.6,5008,37,5016,35.4,5024,36.9,5032,35.4,5040,36.4,5048,35.2,5056,36.3,5064,35,5072,35.2,5080,32,5088,29,5095,24,5101,21,5106,25,5112,31,5118,33.5,5125,35.5,5132,36.4,5140,34.5,5148,36.4,5156,34.5,5164,36.6,5172,34.4,5180,36.5,5188,34.2,5196,36.2,5204,34,5212,36,5220,34,5228,35.8,5236,33.8,5244,35.5,5252,33.6,5260,35.2,5268,33.4,5273,34.8]
anpe_r = [5734,33.2,5745,32.8,5754,35.1,5760,32.7,5775,33.1,5790,32.5,5805,33.1,5820,32.3,5835,32.9,5850,32.2,5870,32.8,5890,32,5910,32.5,5930,31.9,5950,32.3,5970,31.6,5990,32.2,6010,31.5,6030,32.1,6050,31.4,6070,31.9,6090,31.3,6110,31.7,6130,31.1,6150,30.9,6165,30.7,6180,30,6190,31,6210,31,6230,31.3,6250,30.8,6270,31.1,6290,30.5,6310,30.8,6330,30.2,6350,30.6,6370,30,6390,30.4,6410,29.7,6430,30.2,6450,29.5,6470,30,6490,29.3,6510,29.8,6530,29.1,6550,29.5,6570,29,6590,29.3,6610,28.8,6630,29,6650,28.5,6670,28.8,6690,28.2,6710,28.5,6734,28]
mcmc_r = [5734,32.8,5745,31.5,5754,33,5760,31.8,5775,32.7,5790,31.6,5805,32.7,5820,31.2,5835,32.5,5850,31.8,5870,32.4,5880,30.9,5890,31.6,5910,32.1,5930,31.5,5945,30.6,5950,31.9,5970,31.2,5985,30.5,5990,31.7,6010,31,6030,31.6,6050,30.9,6070,31.4,6090,30.8,6110,31.2,6130,30.6,6150,30.4,6165,30.2,6180,27,6190,30.4,6210,30.6,6230,30.9,6250,30.4,6270,30.7,6290,30,6310,30.4,6330,29.8,6350,30.2,6370,29.6,6390,30,6400,28.6,6410,29.3,6430,29.8,6440,28.4,6450,29.1,6470,29.6,6490,28.9,6500,28.2,6510,29.4,6530,28.8,6550,29.1,6570,28.6,6590,28.9,6610,28.4,6630,28.6,6650,28.2,6670,28.4,6690,27.8,6710,28.1,6728,27.2,6734,27.8]
anpe_i = [7126,26.7,7140,26.3,7155,26.7,7170,26.2,7185,26.6,7200,26.1,7220,26.5,7240,26,7260,26.4,7280,25.9,7300,26.3,7320,25.8,7340,26.2,7360,25.7,7375,26.1,7391,26.6,7400,25.6,7420,24.8,7435,25.3,7450,25.7,7470,25.3,7490,25.7,7510,25.2,7530,25.5,7550,25.1,7570,25.4,7590,25,7610,25.3,7626,25.1,7650,25.3,7680,25.1,7710,25.2,7735,24.9,7754,24,7773,25,7800,25,7850,24.8,7920,24.6,7980,24.4,8030,24.2,8077,23.9,8126,23.7]
mcmc_i = [7126,26,7140,25.8,7155,26.1,7170,25.7,7185,26,7200,25.6,7220,25.9,7240,25.5,7260,25.8,7280,25.4,7300,25.7,7320,25.3,7340,25.5,7360,25.2,7375,25.4,7391,23.7,7397,25.6,7420,24.6,7435,24.7,7450,25,7470,24.6,7490,24.8,7510,24.5,7530,24.7,7550,24.3,7570,24.5,7590,24.2,7610,24.3,7626,24.2,7650,24.3,7680,24.2,7710,24.3,7735,24,7754,23.4,7773,24.2,7800,24.2,7850,24,7920,23.7,7980,23.5,8030,23.2,8077,23,8126,22.8]
anpe_z = [8636,22,8700,21.7,8760,21.3,8830,21.2,8895,21,8920,20.6,8940,21.1,8955,20.2,8970,19.3,8980,20.5,8990,21.2,9020,21,9058,21.1,9075,20.2,9091,19.3,9100,20.3,9116,20.9,9140,21,9160,20.7,9175,19.9,9190,20.4,9205,20.6,9250,20.5,9285,20.1,9303,19.5,9318,20.1,9332,20.3,9390,20.3,9430,20,9450,19.2,9470,19.5,9499,19.7,9560,19.6,9632,19.4]
mcmc_z = [8636,21,8700,20.6,8760,20.1,8830,20,8895,19.8,8920,19.5,8940,19.8,8955,19.2,8970,18.2,8980,19.3,8990,20,9020,19.8,9058,19.9,9075,19.1,9091,17.9,9100,19,9116,19.6,9140,19.7,9160,19.5,9175,18.9,9190,19.4,9205,19.7,9250,19.6,9285,18.9,9303,18.4,9318,18.9,9332,19,9390,19,9430,18.6,9450,17.9,9470,18.4,9499,18.8,9560,18.6,9632,18.2]

band_names = ["$u$", "$g$", "$r$", "$i$", "$z$"]
band_xlim = [(3048, 4045), (4269, 5273), (5734, 6734), (7126, 8125), (8636, 9631)]
band_ticks = [[3250, 3500, 3750, 4000], [4500, 4750, 5000], [5750, 6000, 6250, 6500], [7250, 7500, 7750, 8000], [8750, 9000, 9250, 9500]]
band_anpe = [anpe_u, anpe_g, anpe_r, anpe_i, anpe_z]
band_mcmc = [mcmc_u, mcmc_g, mcmc_r, mcmc_i, mcmc_z]
phot_wave = [3543, 4770, 6231, 7625, 9130]
phot_flux = [26.3, 36.25, 29.25, 24.5, 19.0]
phot_err = [1.7, 0.5, 0.3, 0.3, 0.3]
flux_ticks = [15, 20, 25, 30, 35, 40, 45]

caption_lines = [
    [("b", "Figure 2."), ("r", "  A comparison of the posteriors of the 12 SED model parameters derived from standard MCMC")],
    [("r", "sampling (black) and our SED"), ("c", "FLOW"), ("r", " (blue) for an arbitrarily selected NSA galaxy ("), ("t", "NSAID"), ("r", " = 72; red in")],
    [("r", "Figure "), ("l", "1"), ("r", "). The posteriors are in excellent agreement for all of the SED parameters. In the bottom panel,")],
    [("r", "we present the SEDs of the the best-fit parameter values from the SED"), ("c", "FLOW"), ("r", " (blue) and MCMC posteriors")],
    [("r", "(black dotted), which are both in good agreement with the observed NSA photometric flux (red). Estimating")],
    [("r", "the posterior using MCMC sampling requires "), ("m", r"$\sim$"), ("r", "10 CPU hours. Even using neural emulators to accelerate")],
    [("r", "likelihood evaluations, MCMC sampling requires "), ("m", r"$\sim$"), ("r", "10 CPU minutes. "), ("i", "With "), ("r", "SED"), ("c", "FLOW"), ("r", ", "), ("i", "inferring the full")],
    [("i", "posterior takes "), ("r", "1 "), ("i", "second per galaxy"), ("r", ".")],
]
caption_y = [1140, 1170, 1200, 1231, 1261, 1291, 1321, 1352]

W, H = 1080, 1370
CAPTION_STYLE = {
    "r": dict(family="cmr10", size=16.5, color="#1c1c1c"),
    "b": dict(family="cmb10", size=16.5, color="#111111"),
    "i": dict(family="cmmi10", size=15.6, color="#1c1c1c"),
    "t": dict(family="cmtt10", size=15.7, color="#1c1c1c"),
    "c": dict(family="cmr10", size=13, color="#1c1c1c"),
    "l": dict(family="cmr10", size=16.5, color="#33336e"),
    "m": dict(size=16.5, color="#1c1c1c"),
}


def box(left, top, width, height):
    return [left / W, 1 - (top + height) / H, width / W, height / H]


def math_label(s):
    return "$" + s + "$"


def rounded_path(pts, xlim, ylim, radius=0.09):
    # contour outline drawn with softened corners, vertices stay the read values
    scale = np.array([xlim[1] - xlim[0], ylim[1] - ylim[0]])
    q = pts / scale
    verts, codes = [], []
    for k in range(len(q)):
        p, before, after = q[k], q[k - 1], q[(k + 1) % len(q)]
        a = p + (before - p) * min(radius / max(np.linalg.norm(before - p), 1e-9), 0.5)
        b = p + (after - p) * min(radius / max(np.linalg.norm(after - p), 1e-9), 0.5)
        verts += [a, p, b]
        codes += [Path.MOVETO if k == 0 else Path.LINETO, Path.CURVE3, Path.CURVE3]
    verts.append(verts[0])
    codes.append(Path.LINETO)
    return Path(np.array(verts) * scale, codes)


def draw_loops(ax, panel, color, xlim, ylim, alpha=1.0, lw=1.2):
    for loop in panel:
        pts = np.array(loop).reshape(-1, 2)
        ax.add_patch(PathPatch(rounded_path(pts, xlim, ylim), fill=False, edgecolor=color, lw=lw, alpha=alpha))


def style_panel(ax, size):
    for spine in ax.spines.values():
        spine.set_linewidth(1.25)
        spine.set_color(DARK)
    ax.tick_params(direction="out", length=3, width=0.9, color=DARK, labelsize=size, labelcolor="#333333", pad=2)


def draw_corner(fig):
    lefts = [127 + 73.9 * i for i in range(12)]
    tops = [54 + 62.8 * i for i in range(12)]
    for row in range(12):
        for col in range(row + 1):
            ax = fig.add_axes(box(lefts[col], tops[row], 70.5, 59.5))
            style_panel(ax, 10)
            if row == col:
                edges = np.linspace(*x_limits[col], 21)
                ax.stairs(hist_mcmc[col], edges, color="black", lw=1.0)
                ax.stairs(hist_anpe[col], edges, color=BLUE, lw=1.0, alpha=0.85)
                ax.set_ylim(0, 1)
                ax.set_yticks([])
            else:
                draw_loops(ax, mcmc_rows[row - 1][col], "black", x_limits[col], y_limits[row])
                draw_loops(ax, anpe_rows[row - 1][col], BLUE, x_limits[col], y_limits[row], alpha=0.85)
                ax.set_ylim(*y_limits[row])
                ax.set_yticks(y_ticks[row])
                if col == 0:
                    ax.set_yticklabels([math_label(s) for s in y_text[row]], rotation=45, va="center", ha="right")
                    ax.set_ylabel(param_labels[row], fontsize=14, color="#333333", rotation=90, va="center")
                    ax.yaxis.set_label_coords(-0.695, 0.5)
                else:
                    ax.set_yticklabels([])
            ax.set_xlim(*x_limits[col])
            ax.set_xticks(x_ticks[col])
            if row == 11:
                ax.set_xticklabels([math_label(s) for s in x_text[col]], rotation=45, ha="right", rotation_mode="anchor")
                ax.set_xlabel(param_labels[col], fontsize=14, color="#333333", va="center")
                ax.xaxis.set_label_coords(0.5, -0.69)
            else:
                ax.set_xticklabels([])

    handles = [Patch(facecolor="black", edgecolor="#555555", lw=1.2, label="MCMC posterior"),
               Patch(facecolor=BLUE, edgecolor="#5a9ac8", lw=1.2, label="ANPE posterior")]
    fig.legend(handles=handles, loc="upper left", bbox_to_anchor=(573 / W, 1 - 199.5 / H), frameon=False,
               fontsize=14.4, handlelength=2.2, handleheight=0.74, handletextpad=0.2, labelspacing=0.66,
               borderpad=0, borderaxespad=0, labelcolor="#333333")


def draw_spectra(fig):
    lefts = [127.3, 305.7, 484, 661.7, 840]
    for i in range(5):
        ax = fig.add_axes(box(lefts[i], 893.3, 169.5, 167))
        style_panel(ax, 9.4)
        anpe = np.array(band_anpe[i]).reshape(-1, 2)
        mcmc = np.array(band_mcmc[i]).reshape(-1, 2)
        ax.plot(anpe[:, 0], anpe[:, 1], color=BLUE, lw=1.1, label="ANPE best-fit")
        ax.plot(mcmc[:, 0], mcmc[:, 1], color="black", lw=0.85, ls=":", label="MCMC best-fit")
        ax.errorbar(phot_wave[i], phot_flux[i], yerr=phot_err[i], fmt="o", color=RED, ms=7, elinewidth=2.4,
                    alpha=0.95, label="NSA Photometry")
        ax.set_xlim(*band_xlim[i])
        ax.set_ylim(15, 45)
        ax.set_xticks(band_ticks[i])
        ax.set_yticks(flux_ticks)
        ax.set_xticklabels([str(t) for t in band_ticks[i]])
        ax.set_title(band_names[i], fontsize=12, color="#333333", pad=3)
        if i == 0:
            ax.set_yticklabels([str(t) for t in flux_ticks])
            ax.set_ylabel(r"flux $[10^{-17} erg/s/cm^2/A]$", fontsize=11.4, color="#333333", va="center")
            ax.yaxis.set_label_coords(-0.25, 0.48)
        else:
            ax.set_yticklabels([])
        if i == 2:
            ax.set_xlabel(r"wavelength $[A]$", fontsize=11.4, color="#333333", labelpad=1.5)
        if i == 4:
            ax.legend(loc="upper right", frameon=False, fontsize=10.4, labelcolor="#333333", handlelength=2.1,
                      handletextpad=0.1, labelspacing=0.47, borderpad=0.65, borderaxespad=0.3)


def draw_caption(fig):
    renderer = fig.canvas.get_renderer()
    left, right = 11, 1069
    for n, (line, ypx) in enumerate(zip(caption_lines, caption_y)):
        words = [[]]
        for style, text in line:
            for piece in re.findall(r"\s+|\S+", text):
                if piece.isspace():
                    words.append([])
                else:
                    words[-1].append((style, piece))
        words = [w for w in words if w]
        placed = []
        total = 0
        for word in words:
            parts = []
            width = 0
            for style, piece in word:
                t = fig.text(0, 1 - ypx / H, piece, va="baseline", **CAPTION_STYLE[style])
                parts.append((t, width))
                width += t.get_window_extent(renderer).width - 1.4
            width += 1.4
            placed.append((parts, width))
            total += width
        gap = 6.2 if n == len(caption_lines) - 1 else (right - left - total) / (len(words) - 1)
        x = left
        for parts, width in placed:
            for t, offset in parts:
                t.set_x((x + offset) / W)
                t.set_y(1 - (ypx + 6) / H)
            x += width + gap


def main():
    fig = plt.figure(figsize=(W / 100, H / 100), dpi=100)
    draw_corner(fig)
    draw_spectra(fig)
    draw_caption(fig)
    fig.text(1062 / W, 1 - 19 / H, "9", fontsize=16, ha="center", va="center", color="#222222")
    fig.savefig("out.png", dpi=100)
    plt.close(fig)


if __name__ == "__main__":
    main()
